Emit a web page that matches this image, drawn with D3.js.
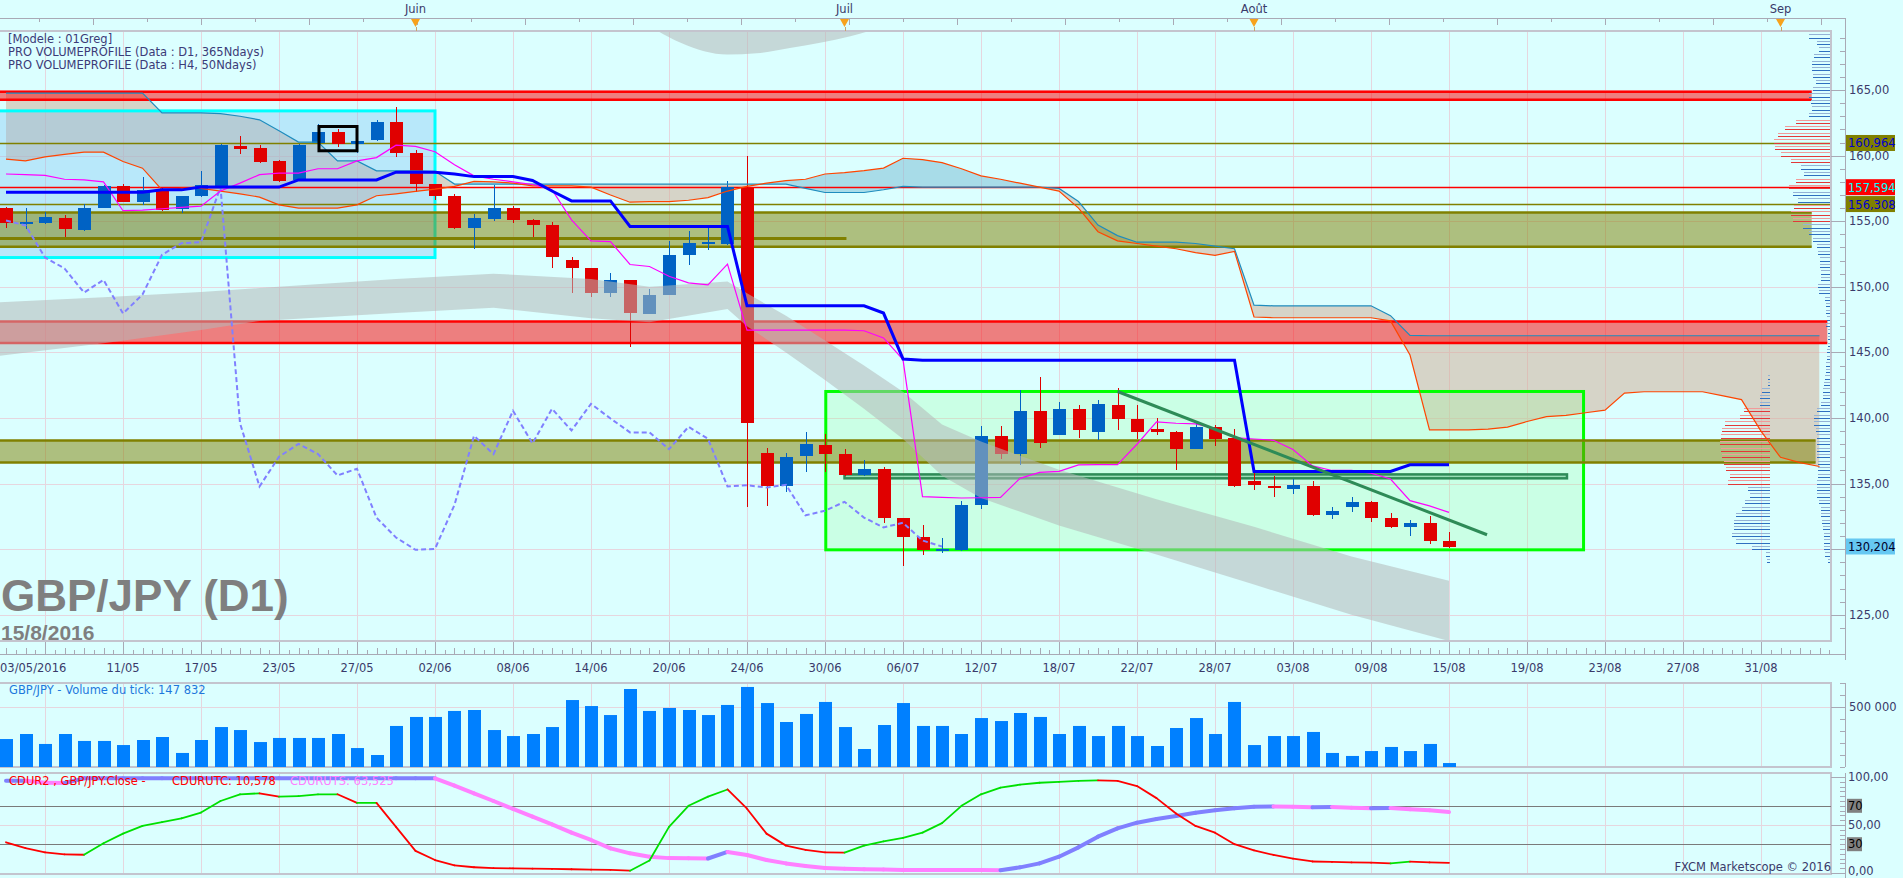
<!DOCTYPE html>
<html>
<head>
<meta charset="utf-8">
<script src="https://cdn.jsdelivr.net/npm/d3@7/dist/d3.min.js"></script>
<style>
  html, body { margin: 0; padding: 0; background: #dbffff; overflow: hidden; }
  svg { display: block; font-family: "DejaVu Sans", Verdana, sans-serif; }
</style>
</head>
<body>
<svg id="chart" width="1903" height="878"></svg>
<script>
// bars: index 0 = 03/05/2016 ... 74 = 15/08/2016 (week days only)
var open = [156.0,154.9,154.9,155.26,154.33,156.0,157.67,156.5,157.39,155.92,
  156.89,157.67,160.72,160.6,159.6,158.14,160.95,161.81,160.9,161.19,
  162.58,160.2,157.82,156.94,154.45,155.14,156.02,155.12,154.73,152.06,
  151.4,149.56,150.53,147.94,149.36,152.46,153.25,153.28,157.56,137.35,
  134.78,137.07,137.93,137.27,135.62,136.13,132.4,130.94,129.95,129.9,
  133.33,138.64,137.22,140.55,138.74,140.7,138.97,141.0,139.94,139.18,
  138.95,137.62,139.33,138.49,135.16,134.85,134.62,134.84,132.58,133.18,
  133.61,132.4,131.66,132.01,130.64];
var high = [156.1,156.0,155.72,155.5,156.3,157.77,157.85,158.36,157.52,156.95,
  158.84,160.85,161.51,160.82,159.67,160.85,162.42,162.04,161.28,162.73,
  163.69,160.45,157.85,157.1,155.57,157.77,156.17,155.15,154.94,152.26,
  151.4,151.07,150.55,149.85,153.5,154.24,154.47,158.1,159.98,137.75,
  137.35,138.97,138.8,137.6,136.76,136.23,132.4,131.86,130.85,133.69,
  139.4,139.4,142.15,143.16,141.23,141.0,141.39,142.3,141.0,140.02,
  139.03,139.73,139.46,139.18,135.8,135.54,135.37,135.16,133.18,133.99,
  133.69,132.77,132.2,132.55,131.3];
var low = [154.47,154.4,154.8,153.76,154.25,155.98,156.43,156.23,155.8,155.66,
  156.85,157.52,160.11,159.47,158.0,158.1,160.9,160.67,160.2,161.15,
  159.86,157.2,156.6,154.4,152.92,154.98,154.9,153.76,151.47,149.52,
  149.19,149.26,145.4,147.9,149.35,151.7,152.8,153.2,133.25,133.3,
  134.35,135.92,135.92,135.6,135.55,131.99,128.68,129.57,129.7,129.83,
  133.06,136.91,136.38,137.73,138.7,138.51,138.34,139.1,138.41,138.72,
  136.0,137.6,137.85,134.75,134.53,133.94,134.17,132.55,132.28,132.87,
  132.1,131.58,130.97,130.36,130.1];
var close = [154.85,154.95,155.34,154.37,156.02,157.67,156.48,157.39,155.82,156.91,
  157.75,160.82,160.54,159.55,158.1,160.82,161.81,160.9,161.1,162.58,
  160.2,157.8,156.89,154.45,155.23,156.02,155.06,154.68,152.24,151.4,
  149.56,150.53,147.97,149.41,152.44,153.33,153.4,157.6,139.61,134.78,
  137.04,138.03,137.25,135.62,136.13,132.4,130.89,129.95,130.02,133.38,
  138.64,137.25,140.55,138.06,140.7,139.05,141.08,139.96,138.9,138.9,
  137.62,139.33,138.41,134.78,134.87,134.7,134.91,132.58,132.93,133.61,
  132.41,131.66,132.01,130.66,130.2];
var volume = [233,275,192,275,217,217,183,225,250,117,
  225,333,308,208,242,242,242,275,158,100,
  342,417,417,467,475,308,258,275,333,558,
  508,433,650,467,492,475,433,517,667,533,
  375,442,542,333,150,350,533,342,342,275,
  408,383,450,417,275,342,258,342,258,175,
  325,408,275,542,183,258,258,292,117,92,
  133,167,133,192,33].map(function(v){ return v * 1000; });

var tickIdx = [6,10,14,18,22,26,30,34,38,42,46,50,54,58,62,66,70,74,78,82,86,90];
var tickLabels = ["11/05","17/05","23/05","27/05","02/06","08/06","14/06","20/06","24/06","30/06",
  "06/07","12/07","18/07","22/07","28/07","03/08","09/08","15/08","19/08","23/08","27/08","31/08"];
var firstLabel = "03/05/2016";
var monthIdx = [21, 43, 64, 91];
var monthLabels = ["Juin", "Juil", "Août", "Sep"];

// ichimoku
var tenkan = [158.6,158.55,158.5,158.2,158.15,158.0,155.8,155.85,155.95,156.05,
  156.15,157.3,157.9,158.55,158.66,158.66,159.0,159.0,159.6,159.85,
  160.8,160.7,160.3,159.3,158.46,158.2,158.0,157.8,157.4,155.1,
  153.5,153.45,151.7,151.55,150.8,150.3,150.15,151.73,146.7,146.7,
  146.7,146.7,146.7,146.7,146.65,146.1,144.45,134.0,133.95,133.9,
  133.92,133.95,135.4,135.85,135.93,136.43,136.45,136.45,138.0,139.7,
  139.6,139.55,139.2,138.5,138.4,138.3,137.6,136.35,136.0,136.0,
  135.8,135.35,133.7,133.3,132.8];
var kijun = [157.2,157.2,157.2,157.2,157.2,157.2,157.2,157.2,157.39,157.39,
  157.6,157.6,157.6,157.6,157.6,158.15,158.15,158.15,158.15,158.15,
  158.74,158.74,158.74,158.6,158.4,158.4,158.4,158.1,157.3,156.55,
  156.55,156.55,154.6,154.6,154.6,154.6,154.6,154.6,148.55,148.55,
  148.55,148.55,148.55,148.55,148.55,148.0,144.5,144.4,144.4,144.4,
  144.4,144.4,144.4,144.4,144.4,144.4,144.4,144.4,144.4,144.4,
  144.4,144.4,144.4,144.4,135.93,135.93,135.93,135.93,135.93,135.93,
  135.93,135.93,136.43,136.43,136.43];
var spanA = [164.76,164.76,164.76,164.76,164.76,164.76,164.76,164.76,163.26,163.26,
  163.26,163.2,163.0,162.73,161.9,161.03,161.03,159.6,159.6,158.84,
  158.84,158.84,158.8,157.83,157.83,157.83,157.83,157.83,157.83,157.83,
  157.83,157.83,157.83,157.83,157.83,157.83,157.83,157.83,157.83,157.83,
  157.83,157.5,157.19,157.19,157.19,157.4,157.65,157.6,157.6,157.6,
  157.6,157.6,157.6,157.6,157.5,156.5,154.7,153.9,153.4,153.4,
  153.4,153.3,153.1,152.9,148.6,148.55,148.55,148.55,148.55,148.55,
  148.55,147.8,146.3,146.27,146.27,146.27,146.27,146.27,146.27,146.27,
  146.27,146.27,146.27,146.27,146.27,146.27,146.27,146.27,146.27,146.27,
  146.27,146.27,146.27,146.27];
var spanB = [159.73,159.6,159.9,160.1,160.26,160.26,159.55,159.04,157.39,157.5,
  157.5,157.3,157.09,156.84,156.25,156.0,156.0,156.0,156.25,156.94,
  157.09,157.27,157.44,157.65,158.03,158.0,157.9,157.7,157.7,157.7,
  157.6,157.0,156.45,156.5,156.5,156.6,156.8,157.3,157.65,157.9,
  158.1,158.2,158.6,158.7,158.85,159.05,159.8,159.7,159.47,159.0,
  158.46,158.2,157.9,157.6,157.3,156.0,154.2,153.5,153.3,153.1,
  152.9,152.6,152.4,152.7,147.7,147.64,147.64,147.64,147.64,147.64,
  147.64,147.4,144.8,139.1,139.1,139.1,139.15,139.3,139.73,140.1,
  140.2,140.4,140.6,141.9,142.0,142.0,142.0,142.0,141.7,141.4,
  139.0,137.0,136.6,136.3];

// grey regression channel
var chanIdx = [-0.5,5,10,13,20,25,30,33,37,38,40,42,44,46,48,50,54,59,64,69,74];
var chanHi = [148.8,149.2,149.6,149.9,150.6,151.0,150.6,150.0,150.4,149.5,147.8,145.9,144.0,142.0,139.5,138.2,136.05,133.8,131.7,129.45,127.6];
var chanLo = [144.7,145.7,146.7,147.4,148.0,148.4,147.6,147.3,148.3,147.0,145.0,142.9,140.7,138.4,135.6,133.9,131.8,129.6,127.3,125.0,123.0];
var blobIdx = [33.3,34.6,37,38.5,40.2,43.3,44.5];
var blobLo = [169.6,168.6,167.7,167.8,168.2,169.1,169.6];

// zones [low, high, last index]
var redZones = [[164.25,164.86,92.6],[145.71,147.36,93.4]];
var oliveZones = [[153.05,155.66,92.6],[136.61,138.29,92.8]];
var levelPrices = [160.964, 157.594, 156.308];
var lastPrice = 130.204;
var oliveLine = [153.68, -0.5, 43.1];

var cyanBoxIdx = [-0.5, 22.0], cyanBoxPx = [152.23, 163.41];
var greenBoxIdx = [42.04, 80.9], greenBoxPx = [129.95, 142.02];
var blackBoxIdx = [16.05, 18.0], blackBoxPx = [160.37, 162.22];
var chanBoxIdx = [43.0, 80.05], chanBoxPx = [135.4, 135.7];
var trendIdx = [57.0, 75.95], trendPx = [142.02, 131.1];

// volume profiles, one value per 0.5 level from 129.0
var prof1 = [3,6,7,7,7,8,9,10,10,12,
  14,14,14,13,13,13,14,14,14,14,
  15,17,17,14,10,8,8,7,6,5,
  5,4,4,3,3,3,5,4,5,5,
  6,12,13,10,10,11,11,13,14,18,
  22,28,38,40,37,33,38,42,35,27,
  30,40,50,56,57,53,46,35,22,19,
  20,22,18,15,18,19,19,17,12,14,
  22,28];
var prof2 = [3,4,18,34,38,36,36,34,28,25,20,22,42,40,44,46,48,49,50,49,48,45,30,26,10,10,8,2,2];
var prof1Red = [[154.8,156.2],[157.3,158.2],[159.5,162.7]];
var prof2Red = [[134.9,140.9]];

// CDUR indicator
var cdurUTC = [32,26,21.5,19.4,19,31,41,49,53,57,
  63,75,82,83,79.5,80,82,82,73,73,
  48,23,13.5,8,6,5,4.9,4.5,4.2,3.9,
  3.6,3.3,2.4,13,48,70,79.5,87,67,41,
  28.5,24,21.5,21.3,28.5,33,36.5,42,52,70,
  82,89,92,94,95,96,96.5,96,90.6,78,
  62,49,42,30,23.6,18.8,15,12,11.5,11,
  10.8,10,11.8,11,10.6];
var cdurUTS = [96,96,94,93.8,98.6,98.6,98.6,98.6,98.6,98.6,
  98.6,98.6,98.6,98.6,98.6,98.6,98.6,98.6,98.6,98.6,
  98.6,98.6,98.6,91,83,75,66.7,58.7,50.7,42,
  34.4,25.7,20.5,17,15.5,15.3,15.1,21.9,18.8,13.5,
  10,7.3,5.2,4.5,3.8,3.7,3.2,3.15,3.1,3.05,
  3.0,2.95,5.9,10,17,26.7,37.8,46.5,52.4,56.3,
  59.4,62.8,65.3,67.4,69,69.4,69,68.4,68.8,68,
  67.4,67.6,66.3,65.3,63.5];

var svg = d3.select("#chart");
var W = 1903, H = 878, PR = 1831, AX = 1845;
var pTop = 31, pBot = 641, vTop = 683, vBot = 767, iTop = 773, iBot = 874;
var GRID = "#e6d6de", FRAME = "#c4c4ce", TXT = "#3a3a6a";
var UP = "#0062c4", DOWN = "#e00000";

var x = d3.scaleLinear().domain([0, 90]).range([6, 1761]);
var y = d3.scaleLinear().domain([123, 169.5]).range([pBot, pTop]);
var yV = d3.scaleLinear().domain([0, 500000]).range([vBot, 707]);
var yI = d3.scaleLinear().domain([0, 100]).range([873, 777]);
var pw = d3.scaleLinear().domain([0, 60]).range([0, 60]);
var comma = function(v, n){ return d3.format("." + n + "f")(v).replace(".", ","); };
var px = function(v){ return Math.round(v) + 0.5; };

svg.append("rect").attr("width", W).attr("height", H).attr("fill", "#dbffff");
var defs = svg.append("defs");
function clipRect(id, x0, y0, w, h){
  defs.append("clipPath").attr("id", id).append("rect")
    .attr("x", x0).attr("y", y0).attr("width", w).attr("height", h);
}
clipRect("cp", 0, pTop, PR, pBot - pTop);
clipRect("cv", 0, vTop, PR, vBot - vTop);
clipRect("ci", 0, iTop, PR, iBot - iTop);

// grid
var gridIdx = d3.range(2, 91, 4);
[[pTop, pBot], [vTop, vBot], [iTop, iBot]].forEach(function(r){
  svg.append("g").selectAll("line").data(gridIdx).enter().append("line")
    .attr("x1", function(d){ return px(x(d)); }).attr("x2", function(d){ return px(x(d)); })
    .attr("y1", r[0]).attr("y2", r[1]).attr("stroke", GRID);
});
svg.append("g").selectAll("line").data(d3.range(125, 170, 5)).enter().append("line")
  .attr("x1", 0).attr("x2", PR)
  .attr("y1", function(d){ return px(y(d)); }).attr("y2", function(d){ return px(y(d)); })
  .attr("stroke", GRID);
svg.append("line").attr("x1", 0).attr("x2", PR).attr("y1", px(yV(500000))).attr("y2", px(yV(500000))).attr("stroke", GRID);
svg.append("line").attr("x1", 0).attr("x2", PR).attr("y1", px(yI(50))).attr("y2", px(yI(50))).attr("stroke", GRID);

// watermark
svg.append("text").attr("x", 1).attr("y", 611).attr("font-family", "Liberation Sans, Arial")
  .attr("font-weight", "bold").attr("font-size", 44).attr("fill", "#7f7f7f").text("GBP/JPY (D1)");
svg.append("text").attr("x", 1).attr("y", 640).attr("font-family", "Liberation Sans, Arial")
  .attr("font-weight", "bold").attr("font-size", 21).attr("fill", "#7f7f7f").text("15/8/2016");

var gp = svg.append("g").attr("clip-path", "url(#cp)");

// cloud fill
var cloud = spanA.map(function(a, i){ return {i: i, a: a, b: spanB[i]}; });
var between = d3.area().x(function(d){ return x(d.i); }).y0(function(d){ return y(d.a); }).y1(function(d){ return y(d.b); });
defs.append("clipPath").attr("id", "aboveB").append("path")
  .attr("d", d3.area().x(function(d){ return x(d.i); }).y0(0).y1(function(d){ return y(d.b); })(cloud));
defs.append("clipPath").attr("id", "belowB").append("path")
  .attr("d", d3.area().x(function(d){ return x(d.i); }).y0(function(d){ return y(d.b); }).y1(H)(cloud));
gp.append("g").attr("clip-path", "url(#aboveB)").append("path").attr("d", between(cloud)).attr("fill", "rgba(210,170,145,0.5)");
gp.append("g").attr("clip-path", "url(#belowB)").append("path").attr("d", between(cloud)).attr("fill", "rgba(117,185,209,0.5)");

function box(idx, pr, fill, stroke, sw){
  gp.append("rect").attr("x", x(idx[0])).attr("y", y(pr[1]))
    .attr("width", x(idx[1]) - x(idx[0])).attr("height", y(pr[0]) - y(pr[1]))
    .attr("fill", fill).attr("stroke", stroke).attr("stroke-width", sw);
}
box(cyanBoxIdx, cyanBoxPx, "rgba(120,190,240,0.35)", "#00ffff", 3);
box(greenBoxIdx, greenBoxPx, "rgba(150,255,150,0.25)", "#00ff00", 3);

// zones and levels
function zone(z, fill, line){
  gp.append("rect").attr("x", 0).attr("y", y(z[1])).attr("width", x(z[2]))
    .attr("height", y(z[0]) - y(z[1])).attr("fill", fill);
  [z[0], z[1]].forEach(function(p){
    gp.append("line").attr("x1", 0).attr("x2", x(z[2])).attr("y1", y(p)).attr("y2", y(p))
      .attr("stroke", line).attr("stroke-width", 2.5);
  });
}
redZones.forEach(function(z){ zone(z, "rgba(255,0,0,0.5)", "#ff0000"); });
oliveZones.forEach(function(z){ zone(z, "rgba(128,128,0,0.5)", "#808000"); });
var levelStroke = ["#808000", "#ff0000", "#808000"];
levelPrices.forEach(function(p, k){
  gp.append("line").attr("x1", 0).attr("x2", PR).attr("y1", px(y(p))).attr("y2", px(y(p)))
    .attr("stroke", levelStroke[k]).attr("stroke-width", 1.5);
});
gp.append("line").attr("x1", x(oliveLine[1])).attr("x2", x(oliveLine[2]))
  .attr("y1", y(oliveLine[0])).attr("y2", y(oliveLine[0])).attr("stroke", "#808000").attr("stroke-width", 3);
box(chanBoxIdx, chanBoxPx, "rgba(120,200,150,0.6)", "#2e8b57", 2.5);

// volume profiles
function profile(vals, start, right, reds){
  var g = gp.append("g").attr("shape-rendering", "crispEdges");
  vals.forEach(function(v, k){
    var p = start + k * 0.5;
    var red = reds.some(function(r){ return p >= r[0] && p <= r[1]; });
    [0, 0.25].forEach(function(off, j){
      var yy = px(y(p + off));
      g.append("line").attr("x1", right - pw(v)).attr("x2", right).attr("y1", yy).attr("y2", yy)
        .attr("stroke", red ? (j ? "#f29a9a" : "#e23838") : (j ? "#94b2d6" : "#2f6fc0"))
        .attr("stroke-width", 1.3);
    });
  });
}
profile(prof1, 129, PR, prof1Red);
profile(prof2, 129, x(90.46), prof2Red);

// candles
var bars = close.map(function(c, i){ return {i: i, o: open[i], h: high[i], l: low[i], c: c}; });
var gc = gp.append("g").attr("shape-rendering", "crispEdges");
gc.selectAll("line").data(bars).enter().append("line")
  .attr("x1", function(d){ return px(x(d.i)); }).attr("x2", function(d){ return px(x(d.i)); })
  .attr("y1", function(d){ return y(d.h); }).attr("y2", function(d){ return y(d.l); })
  .attr("stroke", function(d){ return d.c >= d.o ? UP : DOWN; }).attr("stroke-width", 1.5);
gc.selectAll("rect").data(bars).enter().append("rect")
  .attr("x", function(d){ return Math.round(x(d.i)) - 6; }).attr("width", 13)
  .attr("y", function(d){ return y(Math.max(d.o, d.c)); })
  .attr("height", function(d){ return Math.max(2, Math.abs(y(d.o) - y(d.c))); })
  .attr("fill", function(d){ return d.c >= d.o ? UP : DOWN; });

// grey channel on top of candles
var chan = chanIdx.map(function(i, k){ return {i: i, hi: chanHi[k], lo: chanLo[k]}; });
gp.append("path").attr("d", d3.area().x(function(d){ return x(d.i); })
    .y0(function(d){ return y(d.hi); }).y1(function(d){ return y(d.lo); })(chan))
  .attr("fill", "rgba(178,184,184,0.55)");
var blob = blobIdx.map(function(i, k){ return {i: i, lo: blobLo[k]}; });
gp.append("path").attr("d", d3.area().x(function(d){ return x(d.i); })
    .y0(function(){ return y(172); }).y1(function(d){ return y(d.lo); }).curve(d3.curveMonotoneX)(blob))
  .attr("fill", "rgba(178,184,184,0.55)");

// ichimoku lines
var idxLine = d3.line().x(function(d, i){ return x(i); }).y(function(d){ return y(d); });
gp.append("path").attr("d", idxLine(spanA)).attr("fill", "none").attr("stroke", "#1e8cbe").attr("stroke-width", 1.2);
gp.append("path").attr("d", idxLine(spanB)).attr("fill", "none").attr("stroke", "#ff4500").attr("stroke-width", 1.2);
var chikou = close.slice(26);
gp.append("path").attr("d", idxLine(chikou)).attr("fill", "none").attr("stroke", "#8080ff")
  .attr("stroke-width", 2).attr("stroke-dasharray", "5,3");
gp.append("path").attr("d", idxLine(tenkan)).attr("fill", "none").attr("stroke", "#ff00ff").attr("stroke-width", 1.2);
gp.append("path").attr("d", idxLine(kijun)).attr("fill", "none").attr("stroke", "#0000ff").attr("stroke-width", 3);

gp.append("line").attr("x1", x(trendIdx[0])).attr("y1", y(trendPx[0]))
  .attr("x2", x(trendIdx[1])).attr("y2", y(trendPx[1])).attr("stroke", "#2e8b57").attr("stroke-width", 3);
box(blackBoxIdx, blackBoxPx, "none", "#000000", 3);

// frames
[[pTop, pBot], [vTop, vBot], [iTop, iBot]].forEach(function(r){
  svg.append("path").attr("d", "M-2," + r[0] + "H" + PR + "V" + r[1] + "H-2")
    .attr("fill", "none").attr("stroke", FRAME).attr("stroke-width", 2);
});

// top time strip
svg.append("line").attr("x1", 0).attr("x2", AX).attr("y1", 18.5).attr("y2", 18.5).attr("stroke", "#a9a9b5");
svg.append("g").selectAll("line").data(d3.range(1.69, 94, 2.77)).enter().append("line")
  .attr("x1", function(d){ return px(x(d)); }).attr("x2", function(d){ return px(x(d)); })
  .attr("y1", 18.5).attr("y2", function(d, k){ return k % 2 ? 25 : 22; }).attr("stroke", "#a9a9b5");
monthIdx.forEach(function(m, k){
  var cx = x(m);
  svg.append("text").attr("x", cx).attr("y", 13).attr("text-anchor", "middle")
    .attr("font-size", 11.5).attr("fill", TXT).text(monthLabels[k]);
  svg.append("path").attr("d", "M" + (cx - 4.5) + ",19L" + (cx + 4.5) + ",19L" + cx + ",27Z").attr("fill", "#f7a21b");
  svg.append("line").attr("x1", px(cx)).attr("x2", px(cx)).attr("y1", 27).attr("y2", 31).attr("stroke", "#c9a46a");
});

// bottom time axis
svg.append("line").attr("x1", 0).attr("x2", AX).attr("y1", 654.5).attr("y2", 654.5).attr("stroke", "#a9a9b5");
svg.append("g").selectAll("line").data(d3.range(-0.5, 94, 0.5)).enter().append("line")
  .attr("x1", function(d){ return px(x(d)); }).attr("x2", function(d){ return px(x(d)); })
  .attr("y1", function(d, k){ return k % 2 ? 648 : 650; }).attr("y2", 654).attr("stroke", "#a9a9b5");
svg.append("g").selectAll("line").data(gridIdx).enter().append("line")
  .attr("x1", function(d){ return px(x(d)); }).attr("x2", function(d){ return px(x(d)); })
  .attr("y1", 642).attr("y2", 654).attr("stroke", "#a9a9b5");
svg.append("g").selectAll("text").data(tickIdx).enter().append("text")
  .attr("x", function(d){ return x(d); }).attr("y", 672).attr("text-anchor", "middle")
  .attr("font-size", 11.5).attr("fill", TXT).text(function(d, k){ return tickLabels[k]; });
svg.append("text").attr("x", 0).attr("y", 672).attr("font-size", 11.5).attr("fill", TXT).text(firstLabel);

// right price axis (the last price box hides the 130 label)
svg.append("line").attr("x1", AX + 0.5).attr("x2", AX + 0.5).attr("y1", 18).attr("y2", 660).attr("stroke", "#a9a9b5");
svg.append("g").selectAll("line").data(d3.range(124, 170, 1)).enter().append("line")
  .attr("x1", function(d){ return d % 5 ? AX - 5 : PR; }).attr("x2", AX)
  .attr("y1", function(d){ return px(y(d)); }).attr("y2", function(d){ return px(y(d)); })
  .attr("stroke", "#a9a9b5");
svg.append("g").selectAll("text")
  .data(d3.range(125, 170, 5).filter(function(d){ return Math.abs(d - lastPrice) > 1; }))
  .enter().append("text")
  .attr("x", AX + 4).attr("y", function(d){ return y(d) + 4; })
  .attr("font-size", 11.5).attr("fill", TXT).text(function(d){ return comma(d, 2); });

var labelStyle = [["#808000", "#0000cc"], ["#ff0000", "#00ffff"], ["#808000", "#0000cc"]];
levelPrices.concat([lastPrice]).forEach(function(p, k){
  var st = k < 3 ? labelStyle[k] : ["#66c8f2", "#00002a"];
  svg.append("rect").attr("x", AX + 1).attr("y", y(p) - 8).attr("width", 49).attr("height", 16).attr("fill", st[0]);
  svg.append("text").attr("x", AX + 3).attr("y", y(p) + 4.5).attr("font-size", 11.5)
    .attr("fill", st[1]).text(comma(p, 3));
});

// volume panel
var gv = svg.append("g").attr("clip-path", "url(#cv)");
gv.selectAll("rect").data(volume).enter().append("rect")
  .attr("x", function(d, i){ return Math.round(x(i)) - 6; }).attr("width", 13)
  .attr("y", function(d){ return yV(d); }).attr("height", function(d){ return vBot - yV(d); })
  .attr("fill", "#0080ff");
svg.append("text").attr("x", 9).attr("y", 694).attr("font-size", 11.5).attr("fill", "#1e78dc")
  .text("GBP/JPY - Volume du tick: 147 832");
svg.append("line").attr("x1", AX + 0.5).attr("x2", AX + 0.5).attr("y1", vTop).attr("y2", vBot).attr("stroke", "#a9a9b5");
svg.append("g").selectAll("line").data(d3.range(0, 700001, 100000)).enter().append("line")
  .attr("x1", function(d){ return d === 500000 ? PR : AX - 5; }).attr("x2", AX)
  .attr("y1", function(d){ return px(yV(d)); }).attr("y2", function(d){ return px(yV(d)); })
  .attr("stroke", "#a9a9b5");
svg.append("text").attr("x", AX + 4).attr("y", yV(500000) + 4).attr("font-size", 11.5).attr("fill", TXT).text("500 000");

// indicator panel
var gi = svg.append("g").attr("clip-path", "url(#ci)");
[70, 30].forEach(function(v){
  gi.append("line").attr("x1", 0).attr("x2", PR).attr("y1", px(yI(v))).attr("y2", px(yI(v)))
    .attr("stroke", "#7a7a7a").attr("stroke-width", 1.2);
});
function segments(vals, upC, downC, sw){
  for (var k = 0; k < vals.length - 1; k++){
    var col = vals[k + 1] >= vals[k] ? upC : downC;
    gi.append("line").attr("x1", x(k)).attr("y1", yI(vals[k])).attr("x2", x(k + 1)).attr("y2", yI(vals[k + 1]))
      .attr("stroke", col).attr("stroke-width", sw).attr("stroke-linecap", "round");
  }
}
segments(cdurUTS, "#8080ff", "#ff80ff", 4);
segments(cdurUTC, "#00e000", "#ff0000", 1.8);
svg.append("text").attr("x", 9).attr("y", 785).attr("font-size", 11.5).attr("fill", "#ff0000").text("CDUR2 , GBP/JPY.Close -");
svg.append("text").attr("x", 172).attr("y", 785).attr("font-size", 11.5).attr("fill", "#ff0000").text("CDURUTC: 10,578");
svg.append("text").attr("x", 290).attr("y", 785).attr("font-size", 11.5).attr("fill", "#ff80ff").text("CDURUTS: 63,525");
svg.append("line").attr("x1", AX + 0.5).attr("x2", AX + 0.5).attr("y1", iTop).attr("y2", 878).attr("stroke", "#a9a9b5");
svg.append("g").selectAll("line").data(d3.range(0, 101, 5)).enter().append("line")
  .attr("x1", function(d){ return d % 50 ? AX - 5 : PR; }).attr("x2", AX)
  .attr("y1", function(d){ return px(yI(d)); }).attr("y2", function(d){ return px(yI(d)); })
  .attr("stroke", "#a9a9b5");
[100, 50, 0].forEach(function(v){
  svg.append("text").attr("x", AX + 3).attr("y", Math.min(yI(v) + 4, 875)).attr("font-size", 11.5)
    .attr("fill", TXT).text(comma(v, 2));
});
[70, 30].forEach(function(v){
  svg.append("rect").attr("x", AX + 2).attr("y", yI(v) - 7).attr("width", 15).attr("height", 14).attr("fill", "#808080");
  svg.append("text").attr("x", AX + 3).attr("y", yI(v) + 4).attr("font-size", 11.5).attr("fill", "#000").text(v);
});
svg.append("text").attr("x", PR).attr("y", 871).attr("text-anchor", "end").attr("font-size", 11.5)
  .attr("fill", TXT).text("FXCM Marketscope © 2016");

// header
["[Modele : 01Greg]", "PRO VOLUMEPROFILE (Data : D1, 365Ndays)", "PRO VOLUMEPROFILE (Data : H4, 50Ndays)"]
  .forEach(function(t, k){
    svg.append("text").attr("x", 8).attr("y", 43 + k * 13).attr("font-size", 11.5).attr("fill", "#3b3b78").text(t);
  });
</script>
</body>
</html>
